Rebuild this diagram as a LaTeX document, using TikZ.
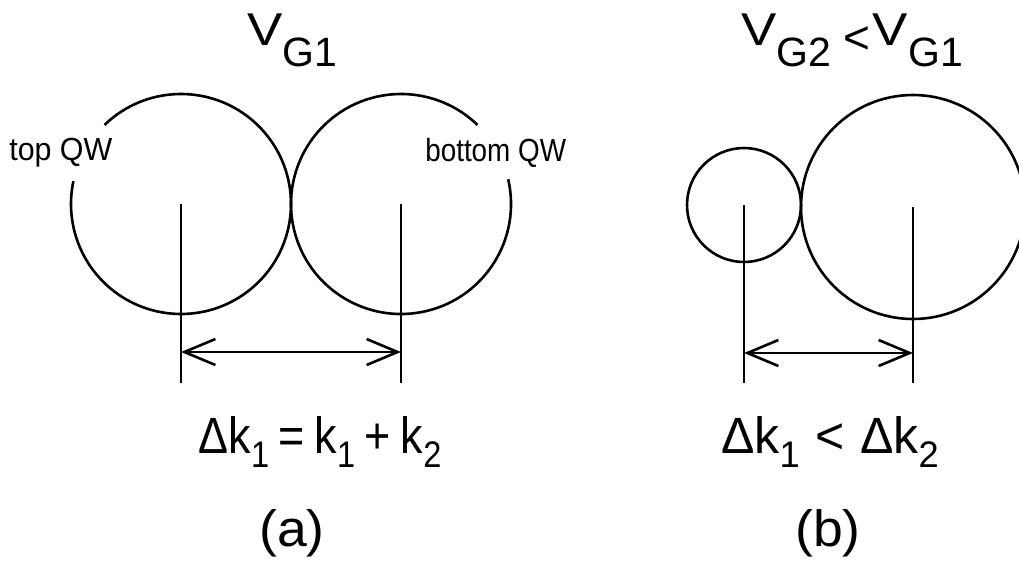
\documentclass[tikz,border=0pt]{standalone}
\usepackage{fontspec}
\setmainfont{Liberation Sans}
\usetikzlibrary{arrows.meta}
\newcommand\tV{\scalebox{1.15}[1]{V}}
\newcommand\tsub[1]{\raisebox{-21pt}{\fontsize{41}{41}\selectfont #1}}
\newcommand\esub[1]{\raisebox{-14pt}{\fontsize{37}{37}\selectfont #1}}
\newcommand\sqz[2]{\scalebox{#1}[1]{#2}}
\begin{document}
\begin{tikzpicture}[x=1pt,y=-1pt,line width=2.6pt,
  title/.style={anchor=base,inner sep=0pt,font=\fontsize{46}{46}\selectfont},
  eqn/.style={anchor=base,inner sep=0pt,font=\fontsize{51}{51}\selectfont},
  qw/.style={anchor=base west,inner sep=0pt,font=\fontsize{32}{32}\selectfont},
  dim/.style={{Straight Barb[length=31pt,width=26pt,line width=2.6pt]}-{Straight Barb[length=31pt,width=26pt,line width=2.6pt]}},
  ring/.style={line width=2.6pt}]
\useasboundingbox (0,0) rectangle (1019,565);
% panel (a)
\coordinate (ca) at (181,204);
\coordinate (cb) at (401,204);
\coordinate (ca1) at (181,383);
\coordinate (cb1) at (401,383);
\coordinate (ka) at (181,352);
\coordinate (kb) at (401,352);
\draw[ring] (ca) ++(226:110) arc[start angle=226,end angle=552,radius=110];
\draw[ring] (cb) ++(347:110) arc[start angle=347,end angle=674,radius=110];
\draw (ca) -- (ca1);
\draw (cb) -- (cb1);
\draw[dim] (ka) -- (kb);
\node[title] (ta) at (292,45) {\tV\tsub{G1}};
\node[qw] (tqw) at (8,160) {\sqz{0.95}{top QW}};
\node[qw] (bqw) at (424,161) {\sqz{0.87}{bottom QW}};
\node[eqn] (ea) at (320,453) {\sqz{0.88}{Δk\esub{1}\hspace{11pt}=\hspace{11pt}k\esub{1}\hspace{11pt}+\hspace{11pt}k\esub{2}}};
\node[eqn] (la) at (292,546) {\sqz{1.05}{(a)}};
% panel (b)
\coordinate (cc) at (744,205);
\coordinate (cd) at (913,207);
\coordinate (cc1) at (744,383);
\coordinate (cd1) at (913,383);
\coordinate (kc) at (744,353);
\coordinate (kd) at (913,353);
\draw[ring] (cc) circle[radius=57];
\draw[ring] (cd) circle[radius=112];
\draw (cc) -- (cc1);
\draw (cd) -- (cd1);
\draw[dim] (kc) -- (kd);
\node[title] (tb) at (852,45) {\tV\tsub{G2}\hspace{12pt}\raisebox{-8pt}{\fontsize{46}{46}\selectfont<}\hspace{3pt}\tV\tsub{G1}};
\node[eqn] (eb) at (830,453) {\sqz{0.98}{Δk\esub{1}\hspace{16pt}<\hspace{16pt}Δk\esub{2}}};
\node[eqn] (lb) at (828,546) {\sqz{1.05}{(b)}};
\end{tikzpicture}
\end{document}
